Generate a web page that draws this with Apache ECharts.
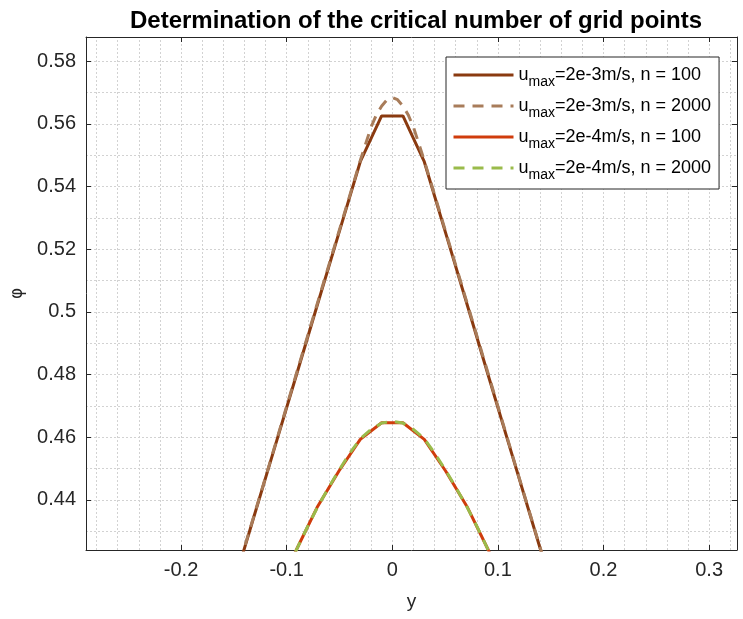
<!DOCTYPE html>
<html><head><meta charset="utf-8">
<script src="https://cdn.jsdelivr.net/npm/echarts@6/dist/echarts.min.js"></script>
<style>html,body{margin:0;padding:0;background:#fff}#c{width:743px;height:619px}</style>
</head><body><div id="c"></div>
<script>
// ---- data ----
const titleText = 'Determination of the critical number of grid points';
const xTicks = [-0.2, -0.1, 0, 0.1, 0.2, 0.3];
const yTicks = [0.44, 0.46, 0.48, 0.5, 0.52, 0.54, 0.56, 0.58];
const xGrid = [-0.28,-0.26,-0.24,-0.22,-0.2,-0.18,-0.16,-0.14,-0.12,-0.1,-0.08,-0.06,-0.04,-0.02,0,0.02,0.04,0.06,0.08,0.1,0.12,0.14,0.16,0.18,0.2,0.22,0.24,0.26,0.28,0.3,0.32];
const yGrid = [0.425,0.43,0.435,0.44,0.445,0.45,0.455,0.46,0.465,0.47,0.475,0.48,0.485,0.49,0.495,0.5,0.505,0.51,0.515,0.52,0.525,0.53,0.535,0.54,0.545,0.55,0.555,0.56,0.565,0.57,0.575,0.58,0.585];

const seriesNames = ['u_max=2e-3m/s, n = 100','u_max=2e-3m/s, n = 2000','u_max=2e-4m/s, n = 100','u_max=2e-4m/s, n = 2000'];

// n = 100 grid
const yN100 = [-0.1515,-0.1313,-0.1111,-0.0909,-0.0707,-0.0505,-0.0303,-0.0101,0.0101,0.0303,0.0505,0.0707,0.0909,0.1111,0.1313,0.1515];
const phiA100 = [0.4116,0.4343,0.4570,0.4797,0.5025,0.5252,0.5479,0.5625,0.5625,0.5479,0.5252,0.5025,0.4797,0.4570,0.4343,0.4116];
const phiB100 = [0.3760,0.3920,0.4090,0.4240,0.4379,0.4492,0.4593,0.4646,0.4646,0.4593,0.4492,0.4379,0.4240,0.4090,0.3920,0.3760];

// n = 2000 (read at selected points)
const yA2000 = [-0.16,-0.12,-0.08,-0.05,-0.03,-0.02,-0.015,-0.01,-0.005,0,0.005,0.01,0.015,0.02,0.03,0.05,0.08,0.12,0.16];
const phiA2000 = [0.4024,0.4472,0.4925,0.5262,0.5486,0.5590,0.5629,0.5657,0.5677,0.5684,0.5677,0.5657,0.5629,0.5590,0.5486,0.5262,0.4925,0.4472,0.4024];
const yB2000 = [-0.12,-0.11,-0.1,-0.09,-0.08,-0.07,-0.06,-0.05,-0.04,-0.03,-0.02,-0.01,0,0.01,0.02,0.03,0.04,0.05,0.06,0.07,0.08,0.09,0.1,0.11,0.12];
const phiB2000 = [0.4010,0.4090,0.4170,0.4246,0.4316,0.4382,0.4441,0.4497,0.4550,0.4596,0.4625,0.4645,0.4651,0.4645,0.4625,0.4596,0.4550,0.4497,0.4441,0.4382,0.4316,0.4246,0.4170,0.4090,0.4010];

const colors = ['#8a3a10','#a87c5a','#d03c0c','#9abb4b'];

// ---- chart ----
const zip = (xs, ys) => xs.map((x, i) => [x, ys[i]]);
const fmt = v => String(Number(v.toFixed(4)));
const axisCol = '#262626';
const FONT = 'Liberation Sans, Arial, sans-serif';
const XMIN = -0.29, XMAX = 0.3264, YMIN = 0.424, YMAX = 0.5877;

const gridMarks = xGrid.map(v => ({ xAxis: v })).concat(yGrid.map(v => ({ yAxis: v })));

const chart = echarts.init(document.getElementById('c'), null, { renderer: 'canvas' });
chart.setOption({
  animation: false,
  backgroundColor: '#fff',
  title: {
    text: titleText, left: 411, top: 4, textAlign: 'center',
    textStyle: { fontFamily: FONT, fontSize: 24, fontWeight: 'bold', color: '#000' }
  },
  grid: { left: 86, right: 6, top: 37, bottom: 69, containLabel: false },
  legend: {
    orient: 'vertical', left: 446, top: 57, z: 20,
    backgroundColor: '#fff', borderColor: axisCol, borderWidth: 1,
    padding: [9, 8, 7, 6], itemGap: 8, itemWidth: 60, itemHeight: 14,
    itemStyle: { opacity: 0 },
    lineStyle: { width: 3 },
    data: seriesNames,
    formatter: name => name.replace('u_max', '{n|u}{s|max}{n|') + '}',
    textStyle: {
      fontFamily: FONT, color: '#000',
      rich: {
        n: { fontSize: 18, color: '#000', fontFamily: FONT },
        s: { fontSize: 14, color: '#000', fontFamily: FONT, padding: [14, 0, 0, 0] }
      }
    }
  },
  xAxis: [{
    type: 'value', min: XMIN, max: XMAX, position: 'bottom',
    name: 'y', nameLocation: 'middle', nameGap: 42,
    nameTextStyle: { fontFamily: FONT, fontSize: 19, color: axisCol },
    axisLine: { show: true, onZero: false, lineStyle: { color: axisCol, width: 1 } },
    axisTick: { show: true, inside: true, length: 5, customValues: xTicks, lineStyle: { color: axisCol } },
    axisLabel: { customValues: xTicks, formatter: fmt, margin: 10, fontFamily: FONT, fontSize: 20, color: axisCol },
    splitLine: { show: false }
  }, {
    type: 'value', min: XMIN, max: XMAX, position: 'top',
    axisLine: { show: true, onZero: false, lineStyle: { color: axisCol, width: 1 } },
    axisTick: { show: true, inside: true, length: 5, customValues: xTicks, lineStyle: { color: axisCol } },
    axisLabel: { show: false }, splitLine: { show: false }
  }],
  yAxis: [{
    type: 'value', min: YMIN, max: YMAX, position: 'left',
    name: 'φ', nameLocation: 'middle', nameGap: 58, nameRotate: 90,
    nameTextStyle: { fontFamily: 'DejaVu Sans, sans-serif', fontSize: 17, color: axisCol },
    axisLine: { show: true, onZero: false, lineStyle: { color: axisCol, width: 1 } },
    axisTick: { show: true, inside: true, length: 5, customValues: yTicks, lineStyle: { color: axisCol } },
    axisLabel: { customValues: yTicks, formatter: fmt, margin: 10, fontFamily: FONT, fontSize: 20, color: axisCol },
    splitLine: { show: false }
  }, {
    type: 'value', min: YMIN, max: YMAX, position: 'right',
    axisLine: { show: true, onZero: false, lineStyle: { color: axisCol, width: 1 } },
    axisTick: { show: true, inside: true, length: 5, customValues: yTicks, lineStyle: { color: axisCol } },
    axisLabel: { show: false }, splitLine: { show: false }
  }],
  series: [
    { name: '__grid', type: 'line', data: [], z: 0, silent: true,
      markLine: { silent: true, z: 0, symbol: ['none', 'none'], label: { show: false }, animation: false,
        lineStyle: { color: '#d2d2d2', type: [2, 2], width: 1 },
        emphasis: { disabled: true }, data: gridMarks } },
    { name: seriesNames[0], type: 'line', data: zip(yN100, phiA100), symbol: 'none', z: 2, color: colors[0], lineStyle: { width: 3, color: colors[0], type: 'solid' } },
    { name: seriesNames[1], type: 'line', data: zip(yA2000, phiA2000), symbol: 'none', z: 3, color: colors[1], lineStyle: { width: 3, color: colors[1], type: [11, 8] } },
    { name: seriesNames[2], type: 'line', data: zip(yN100, phiB100), symbol: 'none', z: 4, color: colors[2], lineStyle: { width: 3, color: colors[2], type: 'solid' } },
    { name: seriesNames[3], type: 'line', data: zip(yB2000, phiB2000), symbol: 'none', z: 5, color: colors[3], lineStyle: { width: 3, color: colors[3], type: [11, 8] } }
  ]
});
</script>
</body></html>
